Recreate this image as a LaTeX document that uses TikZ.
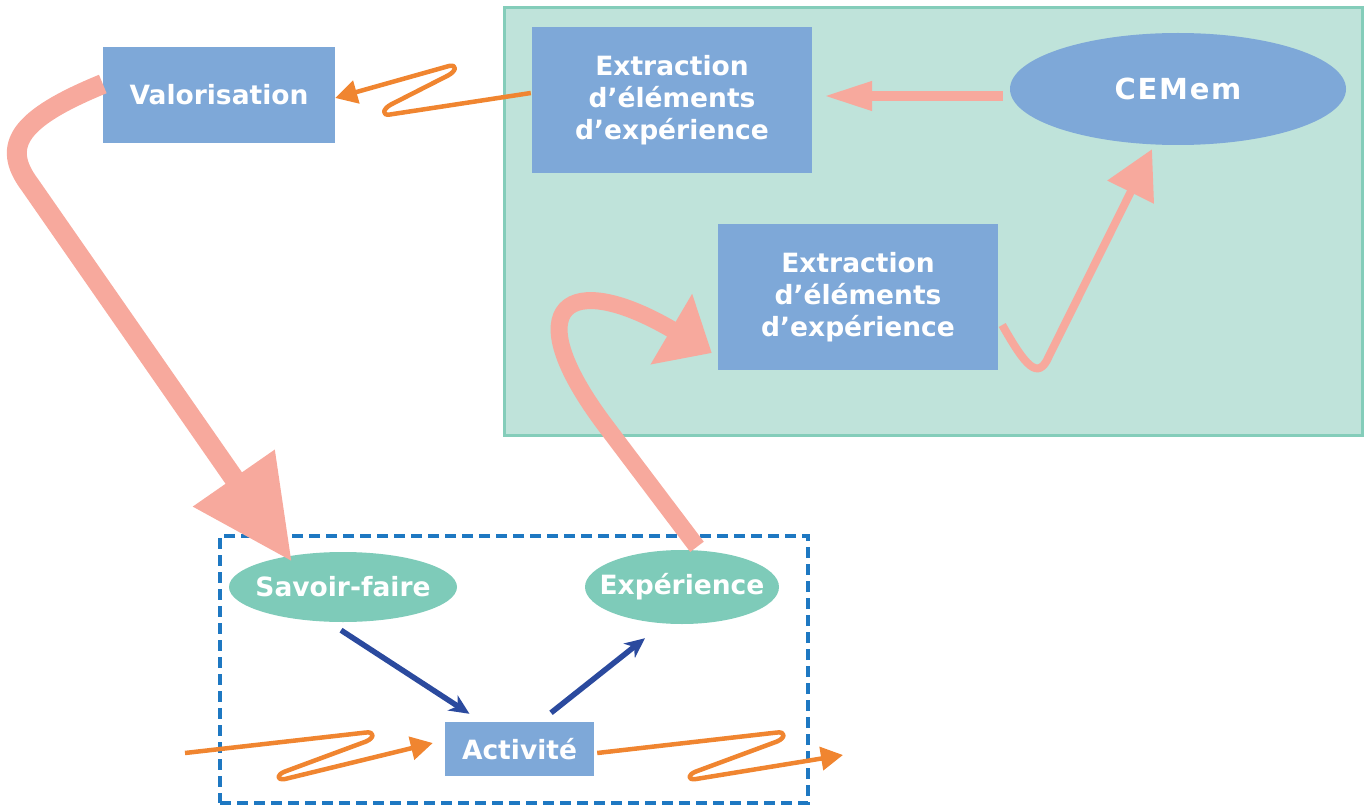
\documentclass[tikz,border=0pt]{standalone}
\usepackage{fontspec}
\setmainfont{DejaVu Sans}
\usetikzlibrary{shapes.geometric,arrows.meta}

\definecolor{boxblue}{HTML}{7EA8D8}
\definecolor{mint}{HTML}{7ECBB9}
\definecolor{panel}{HTML}{BFE3DA}
\definecolor{panelline}{HTML}{84CDBA}
\definecolor{salmon}{HTML}{F7A99D}
\definecolor{flow}{HTML}{F08530}
\definecolor{navy}{HTML}{2B4A9E}
\definecolor{dashblue}{HTML}{1E78C2}

\tikzset{
  label text/.style={text=white,font=\fontsize{26.5}{32}\selectfont\bfseries,align=center},
  bluebox/.style={label text,fill=boxblue,draw=none,inner sep=0pt},
  oval/.style={label text,ellipse,draw=none,inner sep=0pt,inner xsep=-40pt},
  greenoval/.style={oval,fill=mint},
  blueoval/.style={oval,fill=boxblue},
  bigflow/.style={draw=salmon,line cap=butt,line join=round},
  zigflow/.style={draw=flow,line width=4.5pt,line join=round,
    -{Triangle[length=22pt,width=23pt]}},
  navyarrow/.style={draw=navy,line width=5.5pt,-{Stealth[length=20pt,width=18pt,inset=6pt]}}
}

\begin{document}
\begin{tikzpicture}[x=1pt,y=-1pt]
\useasboundingbox (0,0) rectangle (1364,805);

% CEMem working area
\node[fill=panel,draw=panelline,line width=3pt,minimum width=858pt,minimum height=427pt,inner sep=0pt]
  (area) at (933,221.5) {};

% activity frame
\node[draw=dashblue,line width=3.3pt,dash pattern=on 11pt off 6pt,minimum width=588pt,minimum height=267pt,inner sep=0pt]
  (frame) at (514,669.5) {};

% nodes
\node[bluebox,minimum width=232pt,minimum height=96pt] (val) at (219,95) {Valorisation};
\node[bluebox,minimum width=280pt,minimum height=146pt] (ext1) at (672,100)
  {Extraction\\d’éléments\\d’expérience};
\node[blueoval,minimum width=336pt,minimum height=112pt,
  font=\fontsize{29}{32}\selectfont\bfseries\addfontfeatures{LetterSpace=6}] (cem) at (1178,89) {CEMem};
\node[bluebox,minimum width=280pt,minimum height=146pt] (ext2) at (858,297)
  {Extraction\\d’éléments\\d’expérience};
\node[greenoval,minimum width=228pt,minimum height=70pt] (sf) at (343,587) {Savoir-faire};
\node[greenoval,minimum width=194pt,minimum height=74pt] (exp) at (682,587) {Expérience};
\node[bluebox,minimum width=149pt,minimum height=54pt] (act) at (519.5,749) {Activité};

% free ends of the activity flow
\coordinate (flowin) at (185,753);
\coordinate (flowout) at (843,755);

% salmon flows
\draw[bigflow,line width=10pt,-{Triangle[length=49pt,width=27pt]}]
  ([shift={(-7,7)}]cem.west) -- ([shift={(11,-4)}]ext1.east);
\draw[bigflow,line width=8pt,-{Triangle[length=48pt,width=50pt]}]
  ([shift={(4,28)}]ext2.east) .. controls (1025,365) and (1038,382) .. (1049,356)
  -- ([shift={(-26,4)}]cem.south);
\draw[bigflow,line width=17pt,-{Triangle[length=47pt,width=79pt]}]
  ([shift={(15,-3)}]exp.north) -- (605,425)
  .. controls (515,305) and (567.5,268) .. ([shift={(-6,56)}]ext2.west);
\draw[bigflow,line width=20pt,-{Triangle[length=102pt,width=94pt]}]
  ([yshift=11pt]val.west) .. controls (20,118) and (0,145) .. (30,185)
  -- ([shift={(-51,10)}]sf.north);

% orange zigzag flows with hairpin turns
\draw[zigflow] ([shift={(-1,-7)}]ext1.west) -- (390,114.5)
  .. controls (381.1,115.8) and (383.1,108.7) .. (391,104.5) -- (448,75.5)
  .. controls (455.9,71.3) and (457.9,64.4) .. (449,66) -- ([yshift=-3pt]val.east);
\draw[zigflow] (flowin) -- (366,732.5)
  .. controls (374.9,731.5) and (374.3,738) .. (366,741.5) -- (285,771.5)
  .. controls (276.6,774.7) and (276.1,780.3) .. (285,779) -- ([xshift=-12pt,yshift=6pt]act.west);
\draw[zigflow] ([shift={(3,4)}]act.east) -- (777,732.5)
  .. controls (785.9,731.5) and (785.3,738) .. (777,741.5) -- (696,771.5)
  .. controls (687.6,774.7) and (687.1,780.3) .. (696,779) -- (flowout);

% activity links
\draw[navyarrow] ([shift={(-2,8)}]sf.south) -- ([shift={(-50,-8)}]act.north);
\draw[navyarrow] ([shift={(31.5,-9)}]act.north) -- ([shift={(-37,14)}]exp.south);
\end{tikzpicture}
\end{document}
